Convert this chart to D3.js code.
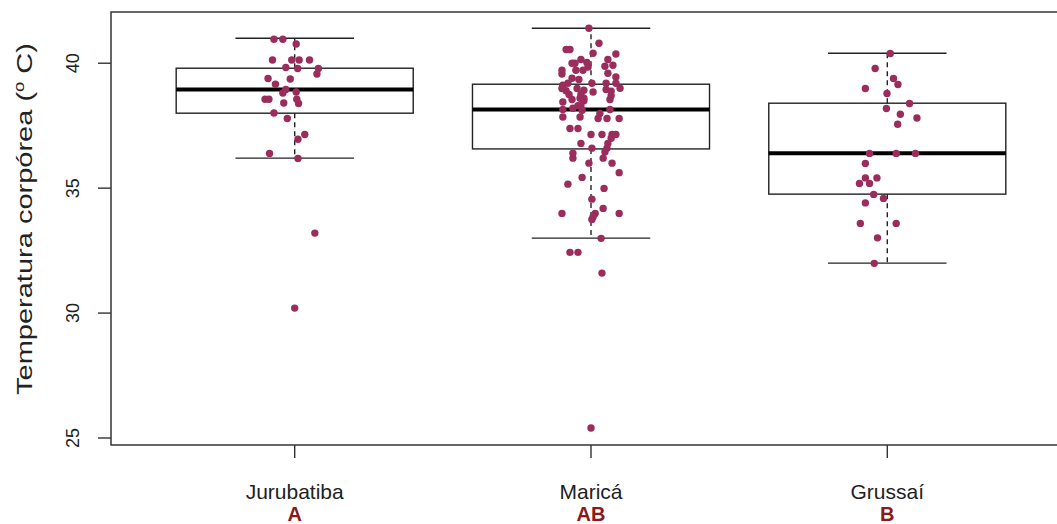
<!DOCTYPE html>
<html lang="en">
<head>
    <meta charset="UTF-8">
    <title>Temperatura corpórea</title>
    <script src="https://d3js.org/d3.v7.min.js"></script>
    <style>
        body { margin: 0; background: #fff; }
        text { font-family: "Liberation Sans", Arial, sans-serif; fill: #222; }
        .frame { fill: none; stroke: #333; stroke-width: 1.5px; }
        .box { fill: none; stroke: #222; stroke-width: 1.4px; }
        .median { stroke: #000; stroke-width: 4px; }
        .whisker { stroke: #222; stroke-width: 1.4px; stroke-dasharray: 5,4; }
        .staple { stroke: #222; stroke-width: 1.4px; }
        .tick { stroke: #333; stroke-width: 1.4px; }
        .dot { fill: #9b2d5c; }
    </style>
</head>
<body>
    <script>
        // groups and letters from the post-hoc test
        var groups = ["Jurubatiba", "Maricá", "Grussaí"];
        var letters = ["A", "AB", "B"];

        // box stats: lower whisker, q1, median, q3, upper whisker
        var lowWhisker = [36.2, 33.0, 32.0];
        var q1 = [38.0, 36.57, 34.76];
        var medians = [38.95, 38.15, 36.4];
        var q3 = [39.8, 39.16, 38.4];
        var highWhisker = [41.0, 41.4, 40.4];

        var yTicks = [25, 30, 35, 40];

        // body temperatures
        var jurubatibaTemp = [40.96, 40.96, 40.77, 40.13, 40.13, 40.13, 40.13, 39.83, 39.79, 39.79,
            39.57, 39.39, 39.37, 39.16, 38.95, 38.81, 38.85, 38.56, 38.56, 38.56,
            38.41, 38.39, 38.01, 37.79, 37.15, 36.96, 36.39, 36.19, 33.2, 30.2];
        var jurubatibaJit = [-0.07, -0.04, 0.005, -0.075, -0.01, 0.015, 0.05, -0.03, 0.01, 0.08,
            0.075, -0.09, -0.015, -0.065, -0.03, -0.04, 0.005, -0.1, -0.087, 0.007,
            -0.037, 0.013, -0.07, -0.025, 0.034, 0.011, -0.085, 0.011, 0.068, 0];

        var maricaTemp = [41.4, 40.8, 40.55, 40.55, 40.4, 40.37, 40.15, 40.15, 40.0, 40.0,
            40.03, 39.88, 39.92, 39.72, 39.72, 39.72, 39.85, 39.57, 39.6, 39.45,
            39.35, 39.4, 39.2, 39.12, 39.2, 39.2, 39.2, 39.0, 38.99, 38.9,
            38.99, 38.92, 38.85, 38.95, 38.88, 38.7, 38.75, 38.75, 38.6, 38.45,
            38.55, 38.6, 38.5, 38.55, 38.3, 38.3, 38.15, 38.2, 38.12, 38.15,
            37.99, 37.85, 37.85, 37.79, 37.79, 37.79, 37.39, 37.39, 37.15, 37.15,
            37.15, 37.15, 37.0, 36.79, 36.79, 36.6, 36.6, 36.45, 36.2, 36.4,
            36.2, 36.0, 36.0, 35.62, 35.43, 35.16, 34.99, 34.56, 34.19, 33.99,
            33.99, 33.99, 33.85, 33.75, 32.99, 32.43, 32.43, 31.6, 25.4];
        var maricaJit = [-0.007, 0.027, -0.084, -0.071, 0.007, 0.084, -0.034, 0.057, -0.064, -0.054,
            -0.014, 0.047, 0.074, -0.098, -0.051, -0.027, -0.01, -0.098, 0.057, 0.084,
            -0.041, -0.064, 0.084, -0.095, -0.078, 0.003, 0.051, 0.098, -0.098, -0.084,
            -0.047, -0.024, 0.007, 0.051, 0.068, 0.068, -0.074, -0.034, -0.024, -0.095,
            -0.064, -0.037, -0.024, 0.064, -0.044, -0.034, -0.095, -0.061, -0.03, 0.064,
            0.03, -0.095, -0.037, 0.024, 0.054, 0.095, -0.071, -0.044, 0, 0.037,
            0.071, 0.084, 0.068, 0.057, -0.034, 0.003, 0.054, 0.047, 0.041, -0.061,
            -0.061, -0.007, 0.071, 0.095, -0.03, -0.078, 0.044, 0.003, 0.041, -0.098,
            0.095, 0.014, 0.007, 0.003, 0.034, -0.071, -0.044, 0.037, 0];

        var grussaiTemp = [40.39, 39.79, 39.39, 39.15, 38.99, 38.79, 38.39, 38.19, 37.96, 37.81,
            37.56, 36.39, 36.39, 36.39, 35.99, 35.41, 35.41, 35.19, 35.19, 34.75,
            34.59, 34.41, 33.59, 33.59, 33.01, 31.99];
        var grussaiJit = [0.01, -0.041, 0.021, 0.036, -0.074, -0.001, 0.075, -0.003, 0.044, 0.1,
            0.035, -0.06, 0.03, 0.095, -0.074, -0.074, -0.035, -0.094, -0.06, -0.046,
            -0.013, -0.074, -0.091, 0.03, -0.033, -0.044];

        var width = 1057,
            height = 524;

        var plotL = 111, plotR = 1071, plotT = 12, plotB = 445;

        // R style limits: 0.5..3.5 widened by 4%
        var x = d3.scaleLinear()
            .domain([0.38, 3.62])
            .range([plotL, plotR]);

        var y = d3.scaleLinear()
            .domain([24.72, 42.05])
            .range([plotB, plotT]);

        var boxHalf = 0.4, stapleHalf = 0.2;

        var svg = d3.select("body").append("svg")
            .attr("width", width)
            .attr("height", height);

        // boxes
        var box = svg.selectAll(".grp")
            .data(groups)
            .enter().append("g")
            .attr("class", "grp");

        box.append("line")
            .attr("class", "whisker")
            .attr("x1", (d, i) => x(i + 1)).attr("x2", (d, i) => x(i + 1))
            .attr("y1", (d, i) => y(q3[i])).attr("y2", (d, i) => y(highWhisker[i]));
        box.append("line")
            .attr("class", "whisker")
            .attr("x1", (d, i) => x(i + 1)).attr("x2", (d, i) => x(i + 1))
            .attr("y1", (d, i) => y(q1[i])).attr("y2", (d, i) => y(lowWhisker[i]));

        box.append("line")
            .attr("class", "staple")
            .attr("x1", (d, i) => x(i + 1 - stapleHalf)).attr("x2", (d, i) => x(i + 1 + stapleHalf))
            .attr("y1", (d, i) => y(highWhisker[i])).attr("y2", (d, i) => y(highWhisker[i]));
        box.append("line")
            .attr("class", "staple")
            .attr("x1", (d, i) => x(i + 1 - stapleHalf)).attr("x2", (d, i) => x(i + 1 + stapleHalf))
            .attr("y1", (d, i) => y(lowWhisker[i])).attr("y2", (d, i) => y(lowWhisker[i]));

        box.append("rect")
            .attr("class", "box")
            .attr("x", (d, i) => x(i + 1 - boxHalf))
            .attr("width", (d, i) => x(i + 1 + boxHalf) - x(i + 1 - boxHalf))
            .attr("y", (d, i) => y(q3[i]))
            .attr("height", (d, i) => y(q1[i]) - y(q3[i]));

        box.append("line")
            .attr("class", "median")
            .attr("x1", (d, i) => x(i + 1 - boxHalf)).attr("x2", (d, i) => x(i + 1 + boxHalf))
            .attr("y1", (d, i) => y(medians[i])).attr("y2", (d, i) => y(medians[i]));

        // jittered points
        var temps = [jurubatibaTemp, maricaTemp, grussaiTemp];
        var jits = [jurubatibaJit, maricaJit, grussaiJit];
        temps.forEach(function(vals, g) {
            svg.append("g").selectAll("circle")
                .data(vals)
                .enter().append("circle")
                .attr("class", "dot")
                .attr("cx", (d, i) => x(g + 1 + jits[g][i]))
                .attr("cy", d => y(d))
                .attr("r", 3.7);
        });

        // frame (right side falls outside the picture)
        svg.append("rect")
            .attr("class", "frame")
            .attr("x", plotL).attr("y", plotT)
            .attr("width", plotR - plotL).attr("height", plotB - plotT);

        // y axis
        svg.selectAll(".ytick")
            .data(yTicks)
            .enter().append("line")
            .attr("class", "tick")
            .attr("x1", plotL - 13).attr("x2", plotL)
            .attr("y1", d => y(d)).attr("y2", d => y(d));

        svg.selectAll(".ylab")
            .data(yTicks)
            .enter().append("text")
            .attr("transform", d => `translate(79,${y(d)}) rotate(-90)`)
            .attr("text-anchor", "middle")
            .style("font-size", "18px")
            .text(d => d);

        // x axis
        svg.selectAll(".xtick")
            .data(groups)
            .enter().append("line")
            .attr("class", "tick")
            .attr("x1", (d, i) => x(i + 1)).attr("x2", (d, i) => x(i + 1))
            .attr("y1", plotB).attr("y2", plotB + 13);

        svg.selectAll(".xlab")
            .data(groups)
            .enter().append("text")
            .attr("x", (d, i) => x(i + 1))
            .attr("y", 499)
            .attr("text-anchor", "middle")
            .style("font-size", "21px")
            .text(d => d);

        svg.selectAll(".letter")
            .data(letters)
            .enter().append("text")
            .attr("x", (d, i) => x(i + 1))
            .attr("y", 521)
            .attr("text-anchor", "middle")
            .style("font-size", "20px")
            .style("font-weight", "bold")
            .style("fill", "#8b1a1a")
            .text(d => d);

        // axis title, stretched along its length like the source image
        var titleY = 219, titleLen = 352;
        var title = svg.append("text")
            .attr("text-anchor", "middle")
            .style("font-size", "22px");
        title.append("tspan").text("Temperatura corpórea (");
        title.append("tspan").attr("dy", -8).style("font-size", "14px").text("o");
        title.append("tspan").attr("dy", 8).text(" C)");
        var natural = title.node().getBBox().width;
        title.attr("transform", `translate(32,${titleY}) rotate(-90) scale(${titleLen / natural},1)`);
    </script>
</body>
</html>
